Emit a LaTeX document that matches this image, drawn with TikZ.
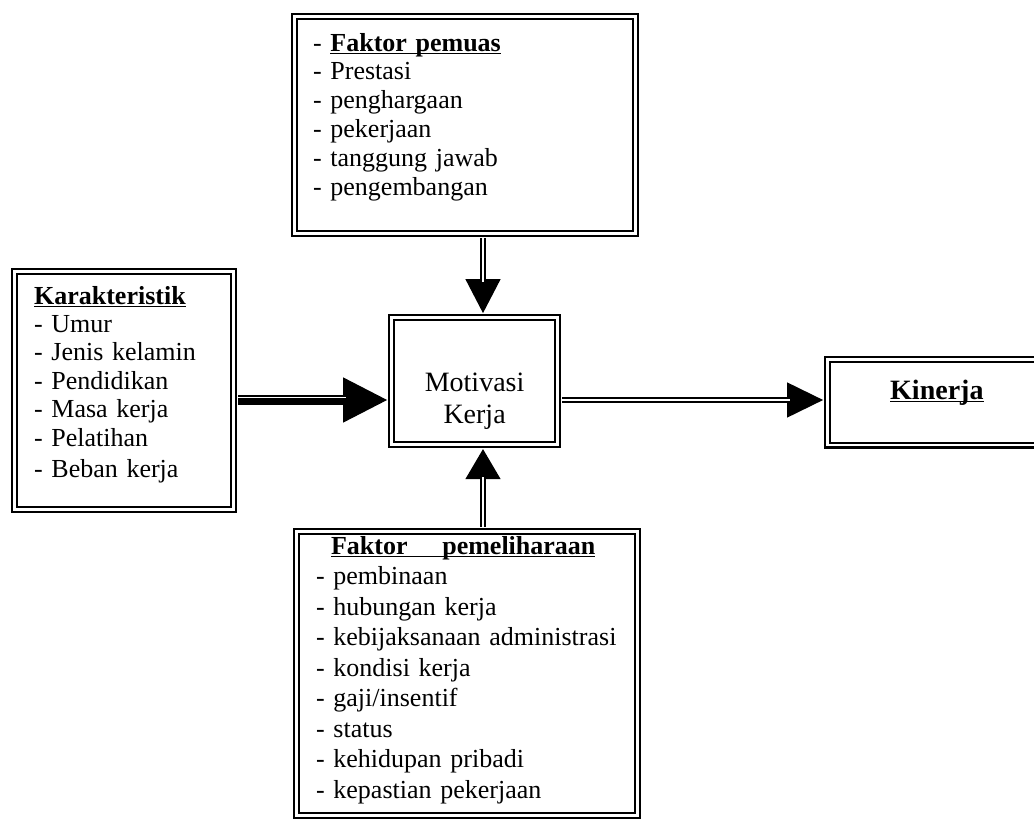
\documentclass[tikz,border=0pt]{standalone}
\usepackage{fontspec}
\setmainfont{Liberation Serif}
\usetikzlibrary{arrows.meta}
\newlength\ulwd
\newcommand{\ulbf}[1]{\settowidth{\ulwd}{\textbf{#1}}\textbf{#1}\hspace{-\ulwd}\rule[-1.6pt]{\ulwd}{0.8pt}}
\tikzset{
  dbox/.style={draw, double, line width=1.1pt, double distance=1.2pt, anchor=north west,
    inner ysep=0pt, align=left, font=\fontsize{13}{14.4}\selectfont},
  shaft/.style={double, line width=0.9pt, double distance=1.3pt, shorten <=1.7pt},
  thickshaft/.style={line width=5.4pt, shorten <=1.7pt,
    postaction={draw, white, line width=0.6pt, transform canvas={yshift=1.4pt}}},
  tipline/.style={line width=0.6pt, shorten <=1.7pt, shorten >=1.7pt},
}
\begin{document}
\begin{tikzpicture}[x=0.5pt,y=-0.5pt]
\useasboundingbox (0,0) rectangle (1034,830);
% boxes
\node[dbox, inner xsep=9.25pt, text width=152pt, text height=17.25pt, text depth=91.25pt] (pemuas) at (293.5,15.5)
  {- \ulbf{Faktor pemuas}\\- Prestasi\\- penghargaan\\- pekerjaan\\- tanggung jawab\\- pengembangan};
\node[dbox, inner xsep=9.75pt, text width=90pt, text height=16.25pt, text depth=102.75pt,
  font=\fontsize{13}{14.2}\selectfont] (karakteristik) at (13.5,270.5)
  {\ulbf{Karakteristik}\\- Umur\\- Jenis kelamin\\- Pendidikan\\- Masa kerja\\- Pelatihan\\[1.5pt]- Beban kerja};
\node[dbox, align=center, inner xsep=0pt, text width=83pt, text height=36.75pt, text depth=26.75pt,
  font=\fontsize{14}{16}\selectfont] (motivasi) at (390.5,316.5) {Motivasi\\Kerja};
\node[dbox, align=center, inner xsep=0pt, text width=109.25pt, text height=19.75pt, text depth=23pt,
  font=\fontsize{14}{16}\selectfont] (kinerja) at (826.5,358.5) {\ulbf{Kinerja}};
\node[dbox, inner xsep=9.75pt, text width=151pt, text height=11.25pt, text depth=130.75pt,
  font=\fontsize{13}{15.25}\selectfont] (pemeliharaan) at (295.5,530.5)
  {\hspace*{7.5pt}\ulbf{Faktor\ \ \ \ pemeliharaan}\\- pembinaan\\- hubungan kerja\\- kebijaksanaan administrasi\\- kondisi kerja\\- gaji/insentif\\- status\\- kehidupan pribadi\\- kepastian pekerjaan};
\coordinate (hub) at (483,400);
% arrows
\draw[tipline, -{Triangle[length=17pt,width=17.5pt]}] (pemuas.south -| hub) -- (motivasi.north -| hub);
\draw[shaft, shorten >=17.5pt] (pemuas.south -| hub) -- (motivasi.north -| hub);
\draw[tipline, -{Triangle[length=15pt,width=17.5pt]}] (pemeliharaan.north -| hub) -- (motivasi.south -| hub);
\draw[shaft, shorten >=15.5pt] (pemeliharaan.north -| hub) -- (motivasi.south -| hub);
\draw[tipline, -{Triangle[length=22pt,width=22.5pt]}] (karakteristik.east |- hub) -- (motivasi.west |- hub);
\draw[thickshaft, shorten >=22.5pt] (karakteristik.east |- hub) -- (motivasi.west |- hub);
\draw[tipline, -{Triangle[length=18pt,width=17.5pt]}] (motivasi.east |- hub) -- (kinerja.west |- hub);
\draw[shaft, shorten >=18.5pt] (motivasi.east |- hub) -- (kinerja.west |- hub);
\end{tikzpicture}
\end{document}
